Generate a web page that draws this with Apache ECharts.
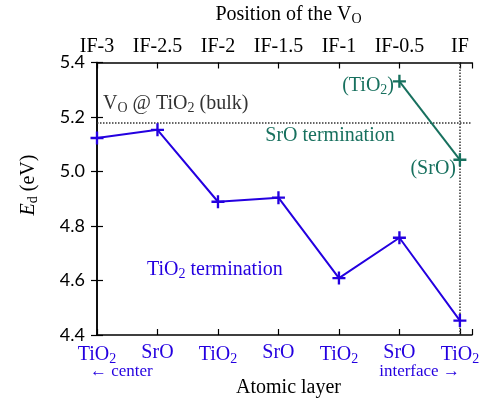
<!DOCTYPE html>
<html><head><meta charset="utf-8">
<script src="https://cdn.jsdelivr.net/npm/echarts@6/dist/echarts.min.js"></script>
<style>html,body{margin:0;padding:0;background:#fff}#c{width:487px;height:403px}</style>
</head><body><div id="c"></div>
<script>
// ---- data ----
const layerNames = ['{n|TiO}{s|2}', '{n|SrO}', '{n|TiO}{s|2}', '{n|SrO}', '{n|TiO}{s|2}', '{n|SrO}', '{n|TiO}{s|2}'];
const positionNames = ['IF-3', 'IF-2.5', 'IF-2', 'IF-1.5', 'IF-1', 'IF-0.5', 'IF'];
const layerIndex = [0, 1, 2, 3, 4, 5, 6];
const tio2Termination = [5.123, 5.153, 4.889, 4.904, 4.609, 4.757, 4.453];
const sroTerminationX = [5, 6];
const sroTermination = [5.331, 5.043];
const bulkLevel = 5.18;
const interfaceX = 6;

// ---- style ----
const BLUE = '#2400e0';
const GREEN = '#17705e';
const SERIF = '"Liberation Serif", "DejaVu Serif", serif';
const PLUS = 'path://M-0.18,-1H0.18V-0.18H1V0.18H0.18V1H-0.18V0.18H-1V-0.18H-0.18Z';

function subRich(color, size, sub, pad) {
  return {
    n: { fontFamily: SERIF, fontSize: size, color: color },
    s: { fontFamily: SERIF, fontSize: sub, color: color, padding: [pad, 0, 0, 0] },
    i: { fontFamily: SERIF, fontSize: size, color: color, fontStyle: 'italic' }
  };
}

const chart = echarts.init(document.getElementById('c'));
const tickCommon = { show: true, inside: true, length: 6, lineStyle: { color: '#000', width: 1.2 } };
const lineCommon = { show: true, lineStyle: { color: '#000', width: 1.5 } };

chart.setOption({
  animation: false,
  backgroundColor: '#fff',
  grid: { left: 97, right: 15, top: 61, bottom: 65, containLabel: false },
  xAxis: [
    {
      type: 'value', position: 'bottom', min: 0, max: 6.2, interval: 1,
      axisLine: lineCommon, axisTick: tickCommon, splitLine: { show: false },
      axisLabel: {
        margin: 8, color: BLUE, fontFamily: SERIF, fontSize: 20,
        formatter: v => (Number.isInteger(v) && layerNames[v] !== undefined) ? layerNames[v] : '',
        rich: subRich(BLUE, 20, 14, 9)
      },
      name: 'Atomic layer', nameLocation: 'middle', nameGap: 43,
      nameTextStyle: { fontFamily: SERIF, fontSize: 20, color: '#000', padding: [0, 0, 0, 8] }
    },
    {
      type: 'value', position: 'top', min: 0, max: 6.2, interval: 1,
      axisLine: lineCommon, axisTick: tickCommon, splitLine: { show: false },
      axisLabel: {
        margin: 6, color: '#000', fontFamily: SERIF, fontSize: 20,
        formatter: v => (Number.isInteger(v) && positionNames[v] !== undefined) ? positionNames[v] : ''
      },
      name: '{n|Position of the V}{s|O}', nameLocation: 'middle', nameGap: 36,
      nameTextStyle: { rich: subRich('#000', 20, 14, 9), padding: [0, 0, 0, 8] }
    }
  ],
  yAxis: [
    {
      type: 'value', position: 'left', min: 4.4, max: 5.4, interval: 0.2,
      axisLine: lineCommon, axisTick: tickCommon, splitLine: { show: false },
      axisLabel: { margin: 12, color: '#000', fontFamily: 'Lato, "DejaVu Sans", sans-serif', fontSize: 18, formatter: v => v.toFixed(1) }
    },
    {
      type: 'value', position: 'right', min: 4.4, max: 5.4, interval: 0.2,
      axisLine: lineCommon, axisTick: tickCommon, splitLine: { show: false },
      axisLabel: { show: false }
    }
  ],
  series: [
    {
      type: 'line', xAxisIndex: 0, yAxisIndex: 0,
      data: layerIndex.map((x, k) => [x, tio2Termination[k]]),
      symbol: PLUS, symbolSize: 13, showAllSymbol: true,
      lineStyle: { color: BLUE, width: 2 }, itemStyle: { color: BLUE },
      z: 5,
      markLine: {
        silent: true, symbol: 'none', label: { show: false },
        lineStyle: { color: '#333', type: 'dotted', width: 1.5 },
        data: [[{ coord: [0, bulkLevel] }, { coord: [6.2, bulkLevel] }], [{ coord: [interfaceX, 4.4] }, { coord: [interfaceX, 5.4] }]]
      }
    },
    {
      type: 'line', xAxisIndex: 0, yAxisIndex: 0,
      data: sroTerminationX.map((x, k) => [x, sroTermination[k]]),
      symbol: PLUS, symbolSize: 13,
      lineStyle: { color: GREEN, width: 2 }, itemStyle: { color: GREEN },
      z: 5
    }
  ]
});

function px(x, y) { return chart.convertToPixel({ xAxisIndex: 0, yAxisIndex: 0 }, [x, y]); }
const p0 = px(0, 4.4), p6 = px(6, 4.4);
const bulkP = px(0, bulkLevel);

function txt(text, x, y, color, align, extra) {
  return Object.assign({
    type: 'text', x: x, y: y, z: 10,
    style: {
      text: text, rich: subRich(color, 20, 14, 9), fill: color,
      fontFamily: SERIF, fontSize: 20, align: align || 'left', verticalAlign: 'middle'
    }
  }, extra || {});
}
function plain(text, x, y, color, align, size) {
  return { type: 'text', x: x, y: y, z: 10,
    style: { text: text, fill: color, fontFamily: SERIF, fontSize: size, align: align, verticalAlign: 'middle' } };
}

chart.setOption({
  graphic: [
    plain('← center', p0[0] - 7, 372, BLUE, 'left', 17),
    plain('interface →', p6[0], 372, BLUE, 'right', 17),
    txt('{n|V}{s|O}{n| @ TiO}{s|2}{n| (bulk)}', bulkP[0] + 6, bulkP[1] - 19, '#333', 'left'),
    txt('{n|SrO termination}', 330, 136, GREEN, 'center'),
    txt('{n|(TiO}{s|2}{n|)}', 394, 86, GREEN, 'right'),
    txt('{n|(SrO)}', 456, 169, GREEN, 'right'),
    txt('{n|TiO}{s|2}{n| termination}', 147, 270, BLUE, 'left'),
    txt('{i|E}{s|d}{n| (eV)}', 29, 185, '#000', 'center', { rotation: Math.PI / 2 })
  ]
});
</script>
</body></html>
